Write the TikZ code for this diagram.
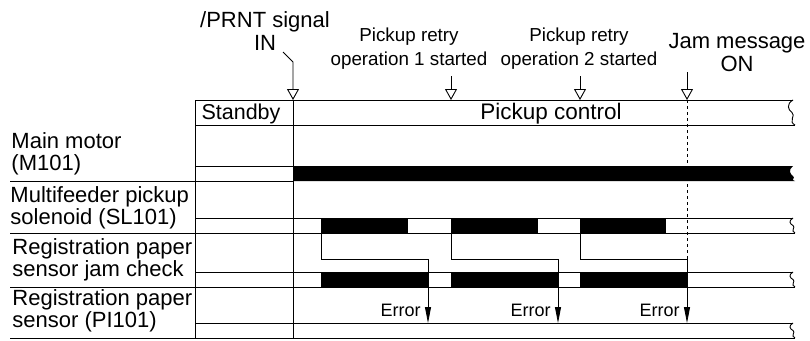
\documentclass[tikz,border=0pt]{standalone}
\usepackage{fontspec}
\setmainfont{Liberation Sans}
\usetikzlibrary{arrows.meta}
\begin{document}
\begin{tikzpicture}[x=1pt,y=-1pt, line width=0.9pt,
  lbl/.style={font=\fontsize{22}{21.5}\selectfont, align=left, anchor=west, inner sep=0},
  hdtxt/.style={font=\fontsize{21.5}{22}\selectfont, inner sep=0},
  toptxt/.style={font=\fontsize{22}{23}\selectfont, align=center, inner sep=0},
  smltxt/.style={font=\fontsize{18.8}{24}\selectfont, align=center, inner sep=0},
  errtxt/.style={font=\fontsize{18}{20}\selectfont, anchor=east, inner sep=0},
  openarr/.style={-{Triangle[open,length=11pt,width=12pt,line width=0.9pt]}},
  errarr/.style={-{Triangle[length=16pt,width=6pt]}},
  bar/.style={fill=black, draw=black},
  brk/.style={line width=0.9pt},
]
\useasboundingbox (0,0) rectangle (810,340);

% ---- header strip
\draw (195,100) -- (793,100);
\draw (195,125) -- (795,125);
\draw[brk] (793,100) .. controls (786,104) and (788,110) .. (792,112.5) .. controls (796,115) and (788,122) .. (795,125);
\node[hdtxt] (stb) at (241,114) {Standby};
\node[hdtxt, font=\fontsize{22.5}{22}\selectfont] (pkc) at (551,114) {Pickup control};

% ---- verticals
\draw (195,100) -- (195,338);
\draw (293,100) -- (293,338);

% ---- main motor row
\draw (195,166) -- (293,166);
\draw (10,181) -- (293,181);
\fill (293,166) -- (793,166) .. controls (788,170) and (790,174) .. (793,176) .. controls (796,178) and (790,180) .. (795,181) -- (293,181) -- cycle;

% ---- signal strips with break symbol
\foreach \t/\b/\l in {218/233/10, 272/287/10, 323/338/10}{
  \draw (195,\t) -- (793,\t);
  \draw (\l,\b) -- (795,\b);
  \draw[brk] (793,\t) .. controls (788,\t+3) and (790,\t+6) .. (793,\t+7.5) .. controls (796,\t+9) and (790,\t+13) .. (795,\b);
}

% ---- solenoid bars
\draw[bar] (321,218) rectangle (407,233);
\draw[bar] (451,218) rectangle (537,233);
\draw[bar] (580,218) rectangle (665,233);

% ---- jam check bars
\draw[bar] (321,272) rectangle (428,287);
\draw[bar] (451,272) rectangle (558,287);
\draw[bar] (580,272) rectangle (687,287);

% ---- jam message dashed line
\draw[dash pattern=on 3pt off 3pt, line width=0.8pt] (687,100) -- (687,259);

% ---- error connectors
\coordinate (s1) at (321,233); \coordinate (e1) at (428,323);
\coordinate (s2) at (451,233); \coordinate (e2) at (558,323);
\coordinate (s3) at (580,233); \coordinate (e3) at (687,323);
\foreach \i in {1,2,3}{
  \draw[errarr, line width=0.8pt] (s\i) -- ++(0,26) -| (e\i);
}
\node[errtxt] (er1) at (421,310) {Error};
\node[errtxt] (er2) at (551,310) {Error};
\node[errtxt] (er3) at (680,310) {Error};

% ---- row labels
\node[lbl] (l1) at (11,154) {Main motor\\(M101)};
\node[lbl] (l2) at (10,208) {Multifeeder pickup\\solenoid (SL101)};
\node[lbl] (l3) at (12,260) {Registration paper\\sensor jam check};
\node[lbl] (l4) at (12,311) {Registration paper\\sensor (PI101)};

% ---- top annotations
\node[toptxt] (prnt) at (265,31) {/PRNT signal\\IN};
\coordinate (p0) at (283,52);
\coordinate (p1) at (293,62);
\coordinate (pt) at (293,100);
\draw[openarr] (p0) -- (p1) -- (pt);

\node[smltxt] (r1) at (409,49) {Pickup retry\\operation 1 started};
\coordinate (r1a) at (451,76); \coordinate (r1b) at (451,100);
\draw[openarr] (r1a) -- (r1b);

\node[smltxt] (r2) at (579,49) {Pickup retry\\operation 2 started};
\coordinate (r2a) at (580,76); \coordinate (r2b) at (580,100);
\draw[openarr] (r2a) -- (r2b);

\node[toptxt] (jam) at (737,53) {Jam message\\ON};
\coordinate (ja) at (687,72); \coordinate (jb) at (687,100);
\draw[openarr] (ja) -- (jb);
\end{tikzpicture}
\end{document}
